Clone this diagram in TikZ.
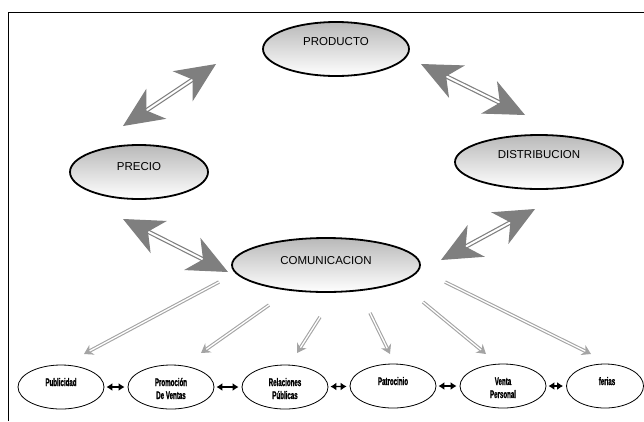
\documentclass[tikz,border=0pt]{standalone}
\usepackage{fontspec}
\setmainfont{Liberation Sans}
\newfontfamily\condfont[FakeStretch=0.56,FakeBold=1.2]{Liberation Sans}
\definecolor{ArrowGray}{HTML}{7F7F7F}
\definecolor{LineGray}{HTML}{A4A4A4}
\usetikzlibrary{arrows.meta,shapes.geometric}

\begin{document}
\begin{tikzpicture}[x=1pt,y=-1pt,
    mainoval/.style={ellipse,draw=black,line width=1.8pt,top color=gray!55,bottom color=white,minimum height=54pt,inner sep=0pt},
    mainlabel/.style={font=\fontsize{11.5}{13}\selectfont,inner sep=0pt},
    suboval/.style={ellipse,draw=black,line width=0.8pt,fill=white,minimum width=86pt,minimum height=44pt,inner sep=0pt},
    sublabel/.style={font=\condfont\bfseries\fontsize{11}{13}\selectfont,align=center,anchor=base,inner sep=0pt},
    bigarrow/.style={ArrowGray,double=white,line width=1.2pt,double distance=2pt,{Stealth[length=40pt,width=36pt,inset=12pt]}-{Stealth[length=40pt,width=36pt,inset=12pt]}},
    thinarrow/.style={LineGray,double=white,line width=1.1pt,double distance=1.3pt,-{Stealth[length=9pt,width=11pt,inset=3pt]}},
    linkarrow/.style={black,line width=1.4pt,{Latex[length=6pt,width=8pt]}-{Latex[length=6pt,width=8pt]},shorten <=2pt,shorten >=3pt}]
      \useasboundingbox (0,0) rectangle (644,421);
      \draw[line width=0.8pt] (8,421) -- (8,12) -- (644,12);

      \node[mainoval,minimum width=146pt] (prod) at (336,49) {};
      \node[mainoval,minimum width=138pt] (prec) at (139,172) {};
      \node[mainoval,minimum width=168pt] (dist) at (539,162) {};
      \node[mainoval,minimum width=188pt] (comu) at (326,265) {};
      \node[mainlabel] (prodtext) at ([yshift=7.5pt]prod.center) {PRODUCTO};
      \node[mainlabel] (prectext) at ([yshift=5.5pt]prec.center) {PRECIO};
      \node[mainlabel] (disttext) at ([yshift=7.5pt]dist.center) {DISTRIBUCION};
      \node[mainlabel] (comutext) at ([yshift=4.5pt]comu.center) {COMUNICACION};

      \coordinate (a1) at (123,126);
      \coordinate (b1) at (216,64);
      \coordinate (a2) at (421,64);
      \coordinate (b2) at (525,115);
      \coordinate (a3) at (123,219);
      \coordinate (b3) at (228,272);
      \coordinate (a4) at (535,209);
      \coordinate (b4) at (441,260);
      \draw[bigarrow] (a1) -- (b1);
      \draw[bigarrow] (a2) -- (b2);
      \draw[bigarrow] (a3) -- (b3);
      \draw[bigarrow] (a4) -- (b4);

      \node[suboval] (pub) at (61,387) {};
      \node[suboval] (prom) at (171,387) {};
      \node[suboval] (rel) at (285,387) {};
      \node[suboval] (pat) at (393,386) {};
      \node[suboval] (vent) at (503,386) {};
      \node[suboval,minimum width=77pt] (fer) at (605,386) {};
      \node[sublabel] (pubtext) at (61,386) {Publicidad};
      \node[sublabel] (promtext) at (171,399) {Promoción\\De Ventas};
      \node[sublabel] (reltext) at (285,399) {Relaciones\\Públicas};
      \node[sublabel] (pattext) at (393,385) {Patrocinio};
      \node[sublabel] (venttext) at (503,398) {Venta\\Personal};
      \node[sublabel] (fertext) at (607,385) {ferias};

      \coordinate (s1) at (219,282);
      \coordinate (e1) at (84,354);
      \coordinate (s2) at (269,305);
      \coordinate (e2) at (201,353);
      \coordinate (s3) at (320,317);
      \coordinate (e3) at (297,353);
      \coordinate (s4) at (370,313);
      \coordinate (e4) at (390,354);
      \coordinate (s5) at (423,302);
      \coordinate (e5) at (486,354);
      \coordinate (s6) at (445,282);
      \coordinate (e6) at (591,354);
      \draw[thinarrow] (s1) -- (e1);
      \draw[thinarrow] (s2) -- (e2);
      \draw[thinarrow] (s3) -- (e3);
      \draw[thinarrow] (s4) -- (e4);
      \draw[thinarrow] (s5) -- (e5);
      \draw[thinarrow] (s6) -- (e6);

      \draw[linkarrow] (pub) -- (prom);
      \draw[linkarrow] (prom) -- (rel);
      \draw[linkarrow] (rel) -- (pat);
      \draw[linkarrow] (pat) -- (vent);
      \draw[linkarrow] (vent) -- (fer);
    \end{tikzpicture}
\end{document}
